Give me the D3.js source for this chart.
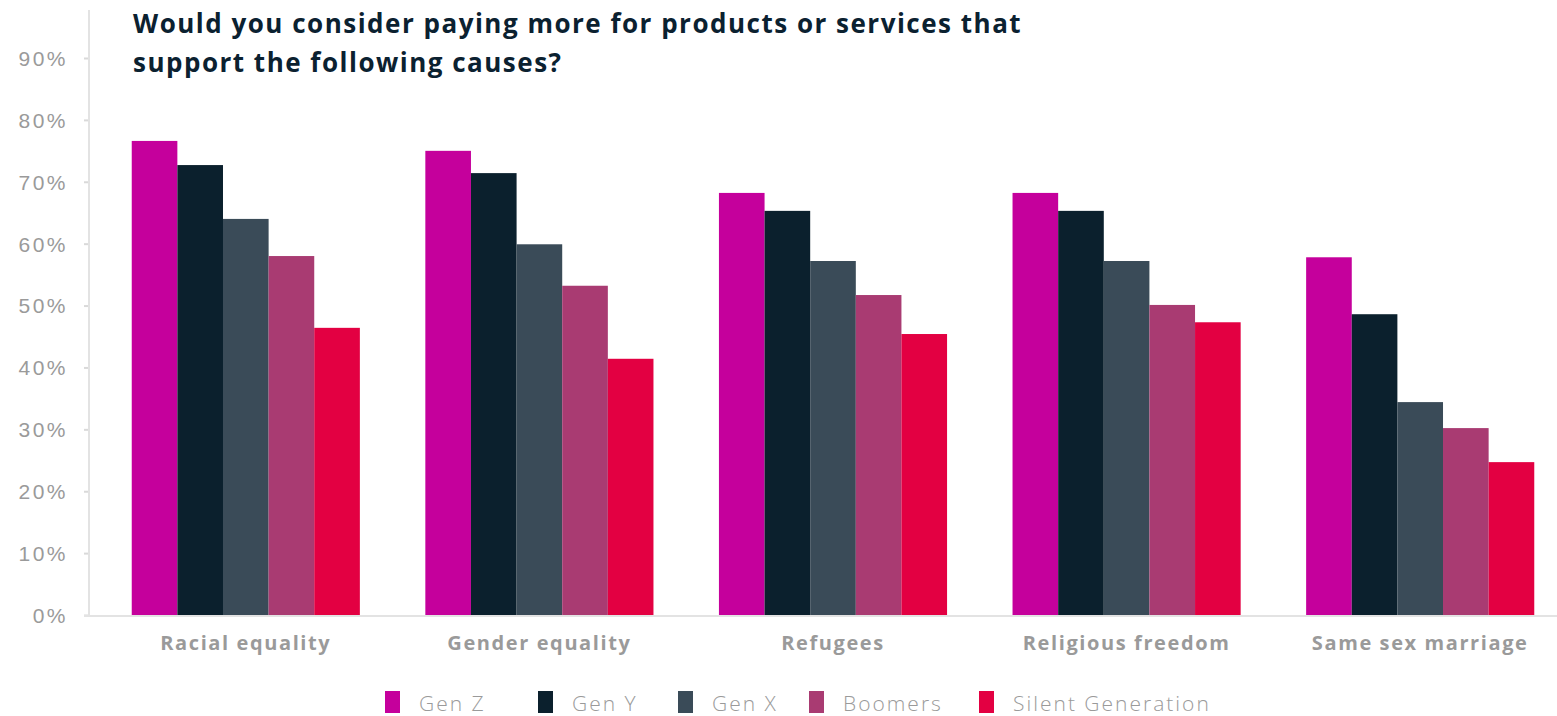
<!DOCTYPE html>
<html>
<head>
<meta charset="utf-8">
<script src="https://cdn.jsdelivr.net/npm/d3@7"></script>
<style>
  body { margin: 0; background: #fff; }
  svg { display: block; font-family: "Open Sans", "Lato", sans-serif; }
</style>
</head>
<body>
<svg id="chart" width="1557" height="716"></svg>
<script>
// Data
const causes = ["Racial equality", "Gender equality", "Refugees", "Religious freedom", "Same sex marriage"];
const generations = ["Gen Z", "Gen Y", "Gen X", "Boomers", "Silent Generation"];
const genZ     = [76.6, 75.0, 68.2, 68.2, 57.8];
const genY     = [72.7, 71.4, 65.3, 65.3, 48.6];
const genX     = [64.0, 59.9, 57.2, 57.2, 34.4];
const boomers  = [58.0, 53.2, 51.7, 50.1, 30.2];
const silent   = [46.4, 41.4, 45.4, 47.3, 24.7];
const yTicks = [0, 10, 20, 30, 40, 50, 60, 70, 80, 90];
const colors = ["#c5009c", "#0b202d", "#3a4b58", "#a93b72", "#e30042"];

const seriesValues = [genZ, genY, genX, boomers, silent];
const data = causes.map((c, i) => ({
  cause: c,
  values: generations.map((g, j) => ({gen: g, value: seriesValues[j][i]}))
}));

const svg = d3.select("#chart");

const y = d3.scaleLinear().domain([0, 90]).range([615, 58]);
const x0 = d3.scaleBand().domain(causes).range([99, 1567]).paddingInner(0.223).paddingOuter(0.1115);
const x1 = d3.scaleBand().domain(generations).range([0, x0.bandwidth()]);
const color = d3.scaleOrdinal().domain(generations).range(colors);

// Y axis
const yAxis = svg.append("g")
  .attr("transform", "translate(89,0)")
  .call(d3.axisLeft(y).tickValues(yTicks).tickFormat(d => d + "%").tickSize(5).tickPadding(16));
yAxis.select(".domain").remove();
yAxis.selectAll(".tick line").attr("stroke", "#d9d9d9").attr("stroke-width", 2);
yAxis.selectAll(".tick text")
  .attr("fill", "#9a9a9a")
  .attr("dy", "0.35em")
  .style("font-size", "21px")
  .style("font-weight", "300")
  .style("letter-spacing", "2.5px");

svg.append("line")
  .attr("x1", 89).attr("x2", 89).attr("y1", 10).attr("y2", 616)
  .attr("stroke", "#e3e3e3").attr("stroke-width", 2);

// Bars
const groups = svg.append("g").selectAll("g")
  .data(data)
  .enter().append("g")
  .attr("transform", d => `translate(${x0(d.cause)},0)`);

groups.selectAll("rect")
  .data(d => d.values)
  .enter().append("rect")
  .attr("x", d => x1(d.gen))
  .attr("width", x1.bandwidth())
  .attr("y", d => y(d.value))
  .attr("height", d => y(0) - y(d.value))
  .attr("fill", d => color(d.gen));

// X axis baseline and labels
svg.append("line")
  .attr("x1", 84).attr("x2", 1557).attr("y1", 616).attr("y2", 616)
  .attr("stroke", "#e3e3e3").attr("stroke-width", 2);

svg.append("g").selectAll("text")
  .data(causes)
  .enter().append("text")
  .attr("x", d => x0(d) + x0.bandwidth() / 2)
  .attr("y", 650)
  .attr("text-anchor", "middle")
  .attr("fill", "#9a9a9a")
  .style("font-size", "20px")
  .style("font-weight", "700")
  .style("letter-spacing", "1.6px")
  .text(d => d);

// Title
const title = svg.append("text")
  .attr("x", 133)
  .attr("fill", "#0b2130")
  .style("font-size", "26px")
  .style("font-weight", "700")
  .style("letter-spacing", "1.5px");
title.append("tspan").attr("x", 133).attr("y", 33).text("Would you consider paying more for products or services that");
title.append("tspan").attr("x", 133).attr("y", 72).text("support the following causes?");

// Legend
const legendX = [385, 538, 678, 809, 979];
const legend = svg.append("g").selectAll("g")
  .data(generations)
  .enter().append("g")
  .attr("transform", (d, i) => `translate(${legendX[i]},691)`);

legend.append("rect")
  .attr("width", 15).attr("height", 22)
  .attr("fill", d => color(d));

legend.append("text")
  .attr("x", 34).attr("y", 20)
  .attr("fill", "#9a9a9a")
  .style("font-size", "21px")
  .style("font-weight", "300")
  .style("letter-spacing", "2px")
  .text(d => d);
</script>
</body>
</html>
